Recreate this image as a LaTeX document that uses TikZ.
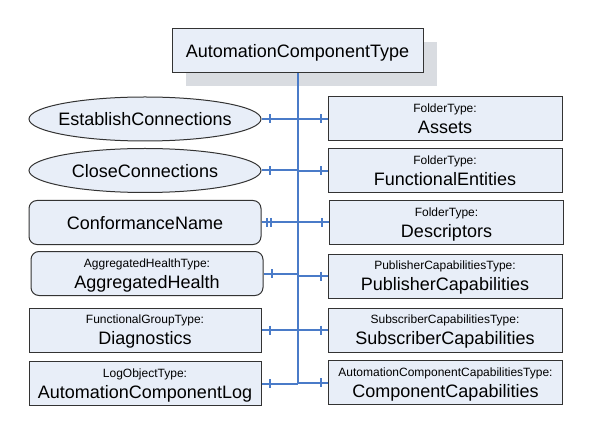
\documentclass[tikz,border=0pt]{standalone}
\usepackage{fontspec}
\setmainfont{Liberation Sans}
\usetikzlibrary{shapes.geometric,shadows}
\definecolor{boxfill}{HTML}{E8EEF8}
\definecolor{boxline}{HTML}{333333}
\definecolor{wireblue}{HTML}{4A7BC8}
\definecolor{shade}{HTML}{D9DCE1}
\newcommand\typ[1]{{\fontsize{12}{14}\selectfont #1}}
\begin{document}
\begin{tikzpicture}[x=1pt,y=-1pt]
\tikzset{
 base/.style={draw=boxline, fill=boxfill, line width=1pt, inner sep=0pt,
   font=\fontsize{18}{21}\selectfont, align=center, text depth=0pt},
 box/.style={base, rectangle, minimum width=232pt, minimum height=44pt},
 rbox/.style={box, rounded corners=8pt},
 ell/.style={base, ellipse, minimum width=232pt, minimum height=44pt},
 rtbox/.style={box, minimum width=234pt},
 wireline/.style={color=wireblue, line width=2pt},
}
\useasboundingbox (0,0) rectangle (593,435);
\node[box, minimum width=251pt,
  drop shadow={fill=shade, opacity=1, shadow xshift=13.5pt, shadow yshift=-13.5pt}]
  (top) at (297.5,51) {AutomationComponentType};
% left column
\node[ell]  (ec)  at (145,119)   {\makebox[0pt]{EstablishConnections}};
\node[ell]  (cc)  at (145,170.5) {\makebox[0pt]{CloseConnections}};
\node[rbox] (cn)  at (145,222.5) {ConformanceName};
\node[rbox] (ah)  at (147,273.5) {\typ{AggregatedHealthType:}\\AggregatedHealth};
\node[box]  (dg)  at (145,330)   {\typ{FunctionalGroupType:}\\Diagnostics};
\node[box]  (acl) at (145,383.5) {\typ{LogObjectType:}\\AutomationComponentLog};
% right column
\node[rtbox] (as)  at (445,119)   {\typ{FolderType:}\\Assets};
\node[rtbox] (fe)  at (445,171)   {\typ{FolderType:}\\FunctionalEntities};
\node[rtbox] (ds)  at (446.5,222.5) {\typ{FolderType:}\\Descriptors};
\node[rtbox] (pc)  at (445,276)   {\typ{PublisherCapabilitiesType:}\\PublisherCapabilities};
\node[rtbox] (sc)  at (445,330)   {\typ{SubscriberCapabilitiesType:}\\SubscriberCapabilities};
\node[rtbox] (cpc) at (445.5,382.5) {\typ{AutomationComponentCapabilitiesType:}\\ComponentCapabilities};
% spine
\draw[wireline] (top.south) -- (top.south |- acl.east);
% left connectors
\foreach \n in {ec,cc,ah,dg,acl} {
  \draw[wireline] (\n.east) -- (\n.east -| top.south);
  \draw[wireline] ([xshift=8pt]\n.east) ++(0,-4.5) -- ++(0,9);
}
\draw[wireline] (cn.east) -- (cn.east -| top.south);
\draw[wireline] ([xshift=5.5pt]cn.east) ++(0,-4.5) -- ++(0,9);
\draw[wireline] ([xshift=9pt]cn.east) ++(0,-4.5) -- ++(0,9);
% right connectors
\foreach \n in {as,fe,ds,pc,sc,cpc} {
  \draw[wireline] (\n.west) -- (\n.west -| top.south);
  \draw[wireline] ([xshift=-7pt]\n.west) ++(0,-4.5) -- ++(0,9);
}
\end{tikzpicture}
\end{document}
